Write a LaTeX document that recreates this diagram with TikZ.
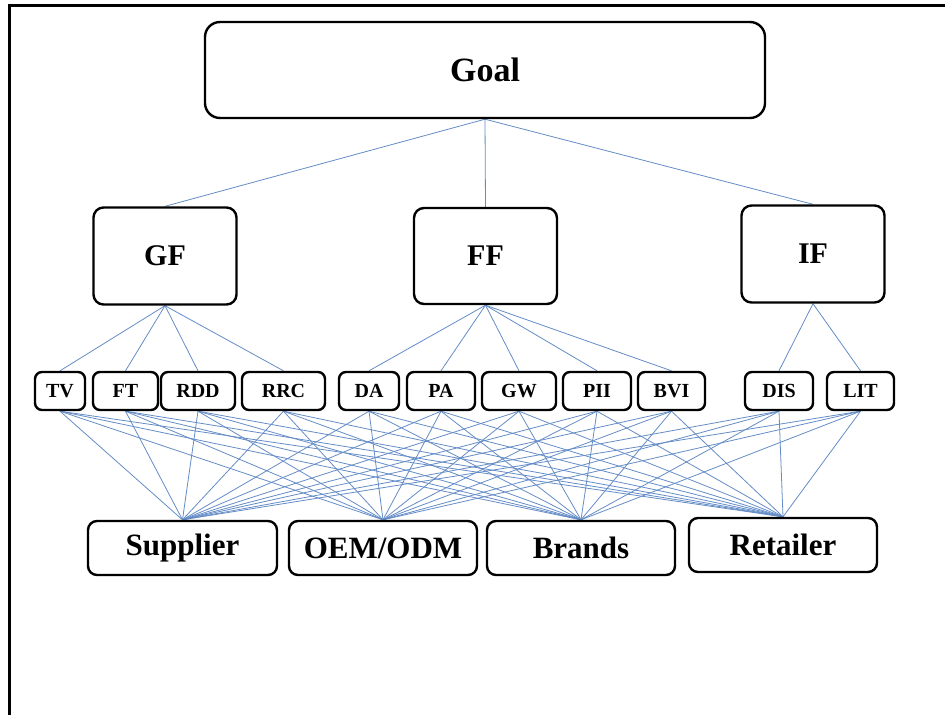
\documentclass[tikz,border=0pt]{standalone}
\usepackage{fontspec}
\setmainfont{Liberation Serif}
\usetikzlibrary{backgrounds}
\definecolor{linkblue}{RGB}{100,140,198}
\tikzset{
  box/.style={draw=black, line width=2.4pt, rounded corners=10pt, fill=white, inner sep=0pt, font=\bfseries\fontsize{30}{30}\selectfont},
  bigbox/.style={box, rounded corners=15pt, font=\bfseries\fontsize{34}{34}\selectfont},
  smallbox/.style={box, rounded corners=7pt, minimum height=38pt, font=\bfseries\fontsize{20}{20}\selectfont},
  botbox/.style={box, rounded corners=9pt, minimum height=54pt, minimum width=188pt, font=\bfseries\fontsize{31}{31}\selectfont},
  link/.style={draw=linkblue, line width=0.8pt}
}
\begin{document}
\begin{tikzpicture}[x=1pt, y=-1pt]
\useasboundingbox (0,0) rectangle (945,715);
\draw[line width=3pt] (9,715) -- (9,5) -- (945,5);

\node[bigbox, minimum width=560pt, minimum height=96pt] (goal) at (485,70) {Goal};
\node[box, minimum width=143pt, minimum height=97pt] (gf) at (165,256) {GF};
\node[box, minimum width=143pt, minimum height=96pt] (ff) at (485.5,256) {FF};
\node[box, minimum width=143pt, minimum height=97pt] (if) at (813,254) {IF};

\node[smallbox, minimum width=50pt] (tv) at (60,391) {TV};
\node[smallbox, minimum width=65pt] (ft) at (125.5,391) {FT};
\node[smallbox, minimum width=74pt] (rdd) at (198,391) {RDD};
\node[smallbox, minimum width=83pt] (rrc) at (283.5,391) {RRC};
\node[smallbox, minimum width=60pt] (da) at (369,391) {DA};
\node[smallbox, minimum width=68pt] (pa) at (441,391) {PA};
\node[smallbox, minimum width=74pt] (gw) at (519,391) {GW};
\node[smallbox, minimum width=68pt] (pii) at (597,391) {PII};
\node[smallbox, minimum width=67pt] (bvi) at (671.5,391) {BVI};
\node[smallbox, minimum width=68pt] (dis) at (779,391) {DIS};
\node[smallbox, minimum width=67pt] (lit) at (860.5,391) {LIT};

\node[botbox, minimum width=189pt] (sup) at (182.5,548) {Supplier};
\node[botbox] (oem) at (383,548) {OEM/ODM};
\node[botbox] (brd) at (581,548) {Brands};
\node[botbox] (ret) at (783,545) {Retailer};

\begin{scope}[on background layer]
  \foreach \c in {gf,ff,if} \draw[link] (goal.south) -- (\c.north);
  \foreach \c in {tv,ft,rdd,rrc} \draw[link] (gf.south) -- (\c.north);
  \foreach \c in {da,pa,gw,pii,bvi} \draw[link] (ff.south) -- (\c.north);
  \foreach \c in {dis,lit} \draw[link] (if.south) -- (\c.north);
  \foreach \m in {tv,ft,rdd,rrc,da,pa,gw,pii,bvi,dis,lit}
    \foreach \b in {sup,oem,brd,ret}
      \draw[link] (\m.south) -- (\b.north);
\end{scope}
\end{tikzpicture}
\end{document}
